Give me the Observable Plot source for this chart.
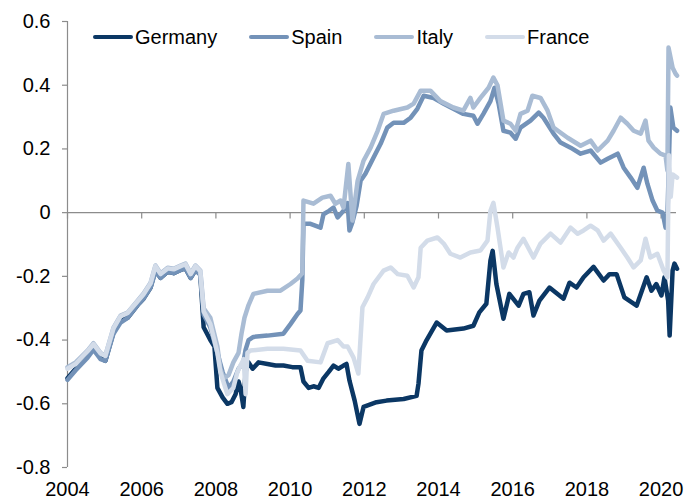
<!DOCTYPE html>
<html>
<head>
<meta charset="utf-8">
<script src="https://cdn.jsdelivr.net/npm/d3@7"></script>
<script src="https://cdn.jsdelivr.net/npm/@observablehq/plot@0.6"></script>
<style>
  html, body { margin: 0; padding: 0; background: #fff; }
  #wrap { position: relative; width: 686px; height: 499px; font-family: "Liberation Sans", Arial, sans-serif; }
  #legend { position: absolute; left: 93px; top: 27px; display: flex; align-items: center; font-size: 20px; line-height: 20px; color: #000; }
  .item { display: flex; align-items: center; margin-right: 32px; }
  .sw { display: inline-block; width: 40px; height: 4px; border-radius: 2px; margin-right: 2px; }
</style>
</head>
<body>
<div id="wrap"><div id="chart"></div><div id="legend"></div></div>
<script>
const seriesNames = ["Germany", "Spain", "Italy", "France"];
const seriesColors = ["#0b3764", "#7392b8", "#a9bcd4", "#d3dce9"];
const yTicks = [-0.8, -0.6, -0.4, -0.2, 0, 0.2, 0.4, 0.6];
const xTicks = [2004, 2006, 2008, 2010, 2012, 2014, 2016, 2018, 2020];

const germany = [
[2004.00,-0.52],[2004.22,-0.49],[2004.54,-0.45],[2004.70,-0.425],[2004.89,-0.455],[2005.02,-0.465],
[2005.24,-0.375],[2005.43,-0.34],[2005.62,-0.33],[2005.89,-0.29],[2006.05,-0.27],[2006.24,-0.235],
[2006.37,-0.18],[2006.51,-0.205],[2006.70,-0.185],[2006.86,-0.19],[2007.05,-0.18],[2007.18,-0.175],
[2007.32,-0.205],[2007.45,-0.18],[2007.58,-0.195],[2007.67,-0.36],[2007.85,-0.40],[2007.96,-0.42],
[2008.04,-0.55],[2008.18,-0.58],[2008.31,-0.60],[2008.42,-0.595],[2008.53,-0.57],[2008.61,-0.53],
[2008.66,-0.55],[2008.74,-0.61],[2008.80,-0.50],[2008.88,-0.47],[2008.99,-0.49],[2009.15,-0.47],
[2009.39,-0.475],[2009.61,-0.48],[2009.82,-0.48],[2010.06,-0.485],[2010.28,-0.485],[2010.36,-0.53],
[2010.50,-0.55],[2010.63,-0.545],[2010.77,-0.55],[2010.90,-0.52],[2011.04,-0.50],[2011.17,-0.48],
[2011.30,-0.49],[2011.44,-0.48],[2011.52,-0.475],[2011.60,-0.527],[2011.74,-0.59],[2011.87,-0.663],
[2011.98,-0.61],[2012.33,-0.595],[2012.60,-0.59],[2013.06,-0.585],[2013.41,-0.575],[2013.46,-0.537],
[2013.54,-0.433],[2013.68,-0.40],[2013.95,-0.345],[2014.22,-0.37],[2014.67,-0.364],[2014.94,-0.355],
[2015.10,-0.313],[2015.29,-0.286],[2015.40,-0.15],[2015.46,-0.12],[2015.56,-0.224],[2015.75,-0.333],
[2015.91,-0.255],[2016.16,-0.292],[2016.29,-0.255],[2016.45,-0.25],[2016.56,-0.323],[2016.72,-0.276],
[2016.99,-0.235],[2017.37,-0.27],[2017.53,-0.22],[2017.72,-0.235],[2017.91,-0.203],[2018.18,-0.17],
[2018.45,-0.213],[2018.61,-0.193],[2018.80,-0.193],[2019.01,-0.266],[2019.34,-0.292],[2019.61,-0.203],
[2019.74,-0.245],[2019.87,-0.224],[2020.01,-0.26],[2020.09,-0.203],[2020.19,-0.276],[2020.23,-0.386],
[2020.31,-0.182],[2020.36,-0.16],[2020.43,-0.176]
];

const spain = [
[2004.00,-0.525],[2004.22,-0.495],[2004.54,-0.455],[2004.70,-0.43],[2004.89,-0.46],[2005.02,-0.465],
[2005.24,-0.38],[2005.43,-0.345],[2005.62,-0.33],[2005.89,-0.29],[2006.05,-0.27],[2006.24,-0.235],
[2006.37,-0.185],[2006.51,-0.205],[2006.70,-0.185],[2006.86,-0.19],[2007.05,-0.18],[2007.18,-0.175],
[2007.32,-0.205],[2007.45,-0.18],[2007.58,-0.195],[2007.67,-0.32],[2007.85,-0.36],[2008.04,-0.44],
[2008.18,-0.50],[2008.34,-0.55],[2008.47,-0.53],[2008.61,-0.49],[2008.74,-0.47],[2008.80,-0.43],
[2008.88,-0.40],[2009.01,-0.39],[2009.39,-0.386],[2009.82,-0.38],[2010.01,-0.35],[2010.20,-0.318],
[2010.28,-0.307],[2010.33,-0.21],[2010.36,-0.035],[2010.55,-0.035],[2010.82,-0.047],[2010.90,-0.005],
[2011.04,0.005],[2011.17,0.016],[2011.28,-0.015],[2011.44,0.006],[2011.55,0.03],[2011.60,-0.056],
[2011.68,-0.03],[2011.79,0.02],[2011.90,0.10],[2012.03,0.122],[2012.25,0.173],[2012.44,0.216],
[2012.62,0.267],[2012.79,0.282],[2013.06,0.282],[2013.25,0.298],[2013.43,0.326],[2013.60,0.367],
[2013.87,0.36],[2014.14,0.342],[2014.40,0.326],[2014.67,0.31],[2014.94,0.304],[2015.05,0.279],
[2015.21,0.31],[2015.40,0.35],[2015.51,0.392],[2015.62,0.342],[2015.75,0.257],[2015.94,0.251],
[2016.08,0.232],[2016.21,0.267],[2016.48,0.289],[2016.70,0.314],[2016.83,0.298],[2017.10,0.248],
[2017.29,0.22],[2017.56,0.204],[2017.83,0.185],[2018.10,0.195],[2018.37,0.157],[2018.56,0.169],
[2018.83,0.185],[2018.99,0.141],[2019.18,0.11],[2019.36,0.078],[2019.53,0.141],[2019.63,0.091],
[2019.77,0.038],[2019.90,0.006],[2020.04,0.0],[2020.12,-0.047],[2020.17,-0.015],[2020.25,0.33],
[2020.33,0.267],[2020.43,0.257]
];

const italy = [
[2004.00,-0.485],[2004.22,-0.47],[2004.54,-0.433],[2004.70,-0.41],[2004.89,-0.44],[2005.02,-0.449],
[2005.24,-0.361],[2005.43,-0.323],[2005.62,-0.314],[2005.89,-0.276],[2006.05,-0.254],[2006.24,-0.22],
[2006.37,-0.166],[2006.51,-0.191],[2006.70,-0.173],[2006.86,-0.176],[2007.05,-0.166],[2007.18,-0.16],
[2007.32,-0.191],[2007.45,-0.166],[2007.58,-0.182],[2007.67,-0.30],[2007.85,-0.33],[2008.04,-0.42],
[2008.12,-0.49],[2008.21,-0.52],[2008.34,-0.51],[2008.47,-0.47],[2008.61,-0.44],[2008.69,-0.38],
[2008.77,-0.33],[2008.88,-0.29],[2009.01,-0.255],[2009.39,-0.245],[2009.74,-0.245],[2010.01,-0.224],
[2010.20,-0.207],[2010.33,-0.19],[2010.36,0.038],[2010.63,0.028],[2010.87,0.047],[2011.09,0.053],
[2011.22,0.028],[2011.36,0.038],[2011.44,0.016],[2011.57,0.153],[2011.68,-0.025],[2011.82,0.10],
[2011.98,0.163],[2012.17,0.204],[2012.36,0.257],[2012.52,0.31],[2012.79,0.32],[2013.16,0.33],
[2013.33,0.342],[2013.52,0.383],[2013.78,0.383],[2014.05,0.35],[2014.40,0.33],[2014.67,0.32],
[2014.86,0.36],[2014.94,0.33],[2015.13,0.36],[2015.35,0.392],[2015.48,0.424],[2015.59,0.40],
[2015.75,0.289],[2015.94,0.279],[2016.08,0.257],[2016.21,0.31],[2016.40,0.32],[2016.53,0.367],
[2016.75,0.36],[2016.94,0.32],[2017.10,0.267],[2017.48,0.235],[2017.83,0.21],[2018.10,0.226],
[2018.29,0.195],[2018.56,0.226],[2018.72,0.257],[2018.91,0.298],[2019.09,0.279],[2019.26,0.257],
[2019.45,0.248],[2019.58,0.289],[2019.66,0.226],[2019.80,0.204],[2019.98,0.185],[2020.12,0.179],
[2020.17,0.132],[2020.20,0.518],[2020.31,0.455],[2020.39,0.436],[2020.43,0.43]
];

const france = [
[2004.00,-0.49],[2004.22,-0.475],[2004.54,-0.435],[2004.70,-0.413],[2004.89,-0.442],[2005.02,-0.45],
[2005.24,-0.363],[2005.43,-0.325],[2005.62,-0.315],[2005.89,-0.278],[2006.05,-0.256],[2006.24,-0.222],
[2006.37,-0.168],[2006.51,-0.193],[2006.70,-0.175],[2006.86,-0.178],[2007.05,-0.168],[2007.18,-0.162],
[2007.32,-0.193],[2007.45,-0.168],[2007.58,-0.184],[2007.67,-0.31],[2007.85,-0.35],[2008.04,-0.44],
[2008.12,-0.50],[2008.31,-0.57],[2008.47,-0.55],[2008.58,-0.50],[2008.66,-0.48],[2008.75,-0.46],
[2008.80,-0.57],[2008.85,-0.44],[2008.93,-0.433],[2009.39,-0.427],[2009.82,-0.427],[2010.28,-0.433],
[2010.47,-0.465],[2010.82,-0.47],[2011.01,-0.41],[2011.28,-0.40],[2011.44,-0.42],[2011.55,-0.42],
[2011.71,-0.455],[2011.84,-0.505],[2011.95,-0.297],[2012.09,-0.266],[2012.25,-0.224],[2012.52,-0.182],
[2012.71,-0.172],[2012.90,-0.193],[2013.16,-0.198],[2013.33,-0.235],[2013.46,-0.203],[2013.52,-0.11],
[2013.70,-0.088],[2013.97,-0.078],[2014.14,-0.097],[2014.32,-0.129],[2014.59,-0.141],[2014.86,-0.125],
[2015.13,-0.119],[2015.32,-0.088],[2015.40,0.006],[2015.48,0.031],[2015.59,-0.047],[2015.75,-0.172],
[2015.89,-0.125],[2016.02,-0.141],[2016.13,-0.11],[2016.29,-0.082],[2016.56,-0.141],[2016.75,-0.097],
[2017.02,-0.066],[2017.29,-0.094],[2017.56,-0.047],[2017.75,-0.066],[2017.91,-0.056],[2018.10,-0.041],
[2018.29,-0.056],[2018.45,-0.088],[2018.64,-0.066],[2018.91,-0.11],[2019.09,-0.141],[2019.26,-0.172],
[2019.45,-0.15],[2019.58,-0.082],[2019.71,-0.141],[2019.90,-0.129],[2020.07,-0.182],[2020.17,-0.203],
[2020.21,0.18],[2020.26,0.05],[2020.31,0.12],[2020.43,0.11]
];

const allSeries = [germany, spain, italy, france];
const FONT = '"Liberation Sans", Arial, sans-serif';
const AXIS = "#8c8c8c";

const lineMarks = allSeries.map((s, i) =>
  Plot.line(s, {x: d => d[0], y: d => d[1], stroke: seriesColors[i], strokeWidth: 4.5, strokeLinejoin: "round", strokeLinecap: "round"})
);

const fmtY = d => d === 0 ? "0" : String(d);

const chart = Plot.plot({
  width: 686,
  height: 499,
  marginLeft: 67,
  marginRight: 10,
  marginTop: 21,
  marginBottom: 32,
  style: {fontFamily: FONT, fontSize: "20px", color: "#000", background: "#fff"},
  x: {domain: [2004, 2020.415], axis: null},
  y: {domain: [-0.8, 0.6], axis: null},
  marks: [
    Plot.ruleY([0], {stroke: AXIS, strokeWidth: 1.2}),
    Plot.ruleX(xTicks, {y1: 0, y2: -0.02, stroke: AXIS, strokeWidth: 1.2}),
    Plot.ruleX([2004], {y1: -0.8, y2: 0.6, stroke: AXIS, strokeWidth: 1.2}),
    Plot.ruleY(yTicks, {x1: 2003.865, x2: 2004, stroke: AXIS, strokeWidth: 1.2}),
    Plot.text(yTicks, {x: 2004, y: d => d, text: fmtY, textAnchor: "end", dx: -17, fontSize: 20, fill: "#000", fontFamily: FONT}),
    Plot.text(xTicks, {x: d => d, y: -0.8, text: d => String(d), textAnchor: "middle", lineAnchor: "middle", dy: 22, fontSize: 20, fill: "#000", fontFamily: FONT}),
    ...lineMarks
  ]
});
document.getElementById("chart").appendChild(chart);

const legend = document.getElementById("legend");
seriesNames.forEach((name, i) => {
  const item = document.createElement("div");
  item.className = "item";
  const sw = document.createElement("span");
  sw.className = "sw";
  sw.style.background = seriesColors[i];
  const t = document.createElement("span");
  t.textContent = name;
  item.appendChild(sw);
  item.appendChild(t);
  legend.appendChild(item);
});
</script>
</body>
</html>
